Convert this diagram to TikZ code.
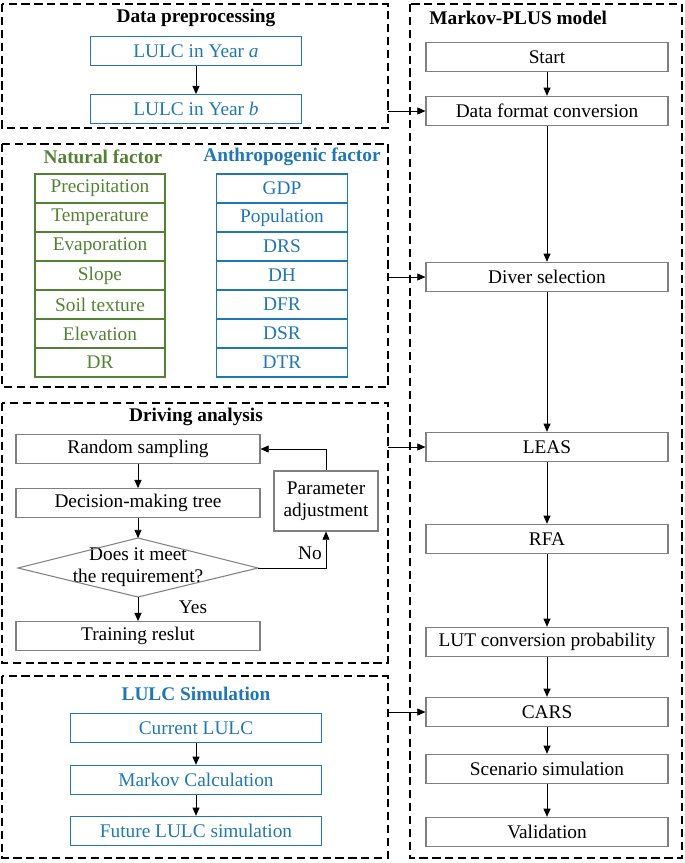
\documentclass[tikz,border=0pt]{standalone}
\usepackage{fontspec}
\setmainfont{Liberation Serif}
\usetikzlibrary{arrows.meta}
\definecolor{lublue}{RGB}{31,119,180}
\definecolor{lugreen}{RGB}{84,130,53}
\begin{document}
\begin{tikzpicture}[x=0.03cm,y=-0.03cm,>={Triangle[length=7pt,width=6pt]},thick,
  font=\fontsize{16.5}{19}\selectfont,
  group/.style={draw,dashed,line width=0.9pt,dash pattern=on 7pt off 4pt},
  mstep/.style={draw=gray,line width=0.9pt,minimum width=7.26cm,minimum height=0.88cm,inner sep=1pt},
  lbox/.style={draw=gray,line width=0.9pt,minimum width=7.32cm,minimum height=0.86cm,inner sep=1pt},
  bbox/.style={draw=lublue,text=lublue,line width=0.9pt,minimum height=0.86cm,inner sep=1pt},
  gbox/.style={draw=lugreen,text=lugreen,line width=0.9pt,minimum width=3.9cm,minimum height=0.87cm,inner sep=1pt},
  title/.style={font=\fontsize{16.5}{19}\selectfont\bfseries}]
\useasboundingbox (0,0) rectangle (685,863);

% The groups
\draw[group] (2,4) rectangle (388,128);
\draw[group] (2,144) rectangle (388,387);
\draw[group] (2,403) rectangle (388,663);
\draw[group] (2,676) rectangle (388,858);
\draw[group] (410,4) rectangle (682,858);
\node[title] at (196,18) {Data preprocessing};
\node[title,text=lugreen] at (103,157) {Natural factor};
\node[title,text=lublue] at (292,157) {Anthropogenic factor};
\node[title] at (196,417) {Driving analysis};
\node[title,text=lublue] at (196,694) {LULC Simulation};
\node[title,anchor=west] at (425,18) {Markov-PLUS model};

% Data preprocessing
\node[bbox,minimum width=6.33cm] (ya) at (196,51) {LULC in Year \textit{a}};
\node[bbox,minimum width=6.33cm] (yb) at (196,109) {LULC in Year \textit{b}};
\draw[->] (ya) -- (yb);

% Factors
\foreach \t [count=\i] in {Precipitation,Temperature,Evaporation,Slope,Soil texture,Elevation,DR}
  \node[gbox] (nf\i) at (100,{174+(\i-0.5)*29}) {\t};
\foreach \t [count=\i] in {GDP,Population,DRS,DH,DFR,DSR,DTR}
  \node[bbox,minimum width=3.93cm,minimum height=0.87cm] (af\i) at (282,{174+(\i-0.5)*29}) {\t};

% Driving analysis
\node[lbox] (rs) at (138,449) {Random sampling};
\node[lbox] (dt) at (138,503) {Decision-making tree};
\node[align=center,inner sep=0pt] (dm) at (138,567) {Does it meet\\the requirement?};
\coordinate (dml) at (18,568);
\coordinate (dmt) at (138,538);
\coordinate (dmr) at (258,568);
\coordinate (dmb) at (138,597);
\draw[gray,line width=0.9pt] (dml) -- (dmt) -- (dmr) -- (dmb) -- cycle;
\node[lbox] (tr) at (138,636) {Training reslut};
\node[draw=gray,line width=0.9pt,minimum width=3.12cm,minimum height=1.8cm,align=center,inner sep=1pt] (pa) at (326,501) {Parameter\\adjustment};
\draw[->] (rs) -- (dt);
\draw[->] (dt) -- (dmt);
\draw[->] (dmb) -- (tr);
\node (yes) at (193,607) {Yes};
\draw[->] (dmr) -| (pa.south);
\node (no) at (310,553) {No};
\draw[->] (pa.north) |- (rs.east);

% LULC Simulation
\node[bbox,minimum width=7.53cm,minimum height=0.88cm] (cl) at (196,728) {Current LULC};
\node[bbox,minimum width=7.53cm,minimum height=0.88cm] (mc) at (196,780) {Markov Calculation};
\node[bbox,minimum width=7.53cm,minimum height=0.88cm] (fl) at (196,831) {Future LULC simulation};
\draw[->] (cl) -- (mc);
\draw[->] (mc) -- (fl);

% Markov-PLUS model
\node[mstep] (st) at (547,57) {Start};
\node[mstep] (dc) at (547,111) {Data format conversion};
\node[mstep] (ds) at (547,277) {Diver selection};
\node[mstep] (le) at (547,447) {LEAS};
\node[mstep] (rf) at (547,539) {RFA};
\node[mstep] (lu) at (547,642) {LUT conversion probability};
\node[mstep] (ca) at (547,712) {CARS};
\node[mstep] (sc) at (547,769) {Scenario simulation};
\node[mstep] (va) at (547,832) {Validation};
\draw[->] (st) -- (dc);
\draw[->] (dc) -- (ds);
\draw[->] (ds) -- (le);
\draw[->] (le) -- (rf);
\draw[->] (rf) -- (lu);
\draw[->] (lu) -- (ca);
\draw[->] (ca) -- (sc);
\draw[->] (sc) -- (va);

% Links
\coordinate (g1) at (388,111);
\coordinate (g2) at (388,277);
\coordinate (g3) at (388,447);
\coordinate (g4) at (388,712);
\draw[->] (g1) -- (dc.west);
\draw[->] (g2) -- (ds.west);
\draw[->] (g3) -- (le.west);
\draw[->] (g4) -- (ca.west);
\end{tikzpicture}
\end{document}
